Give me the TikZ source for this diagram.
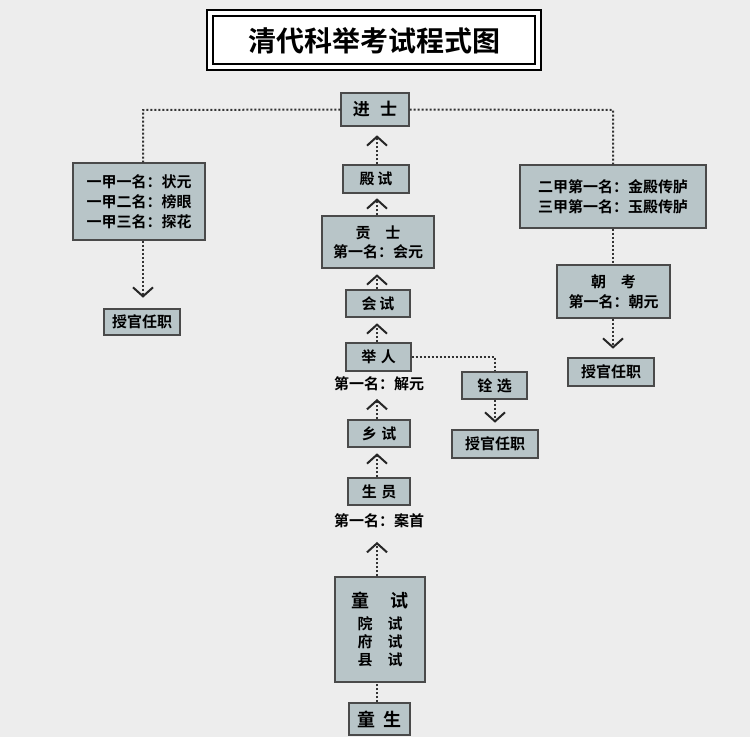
\documentclass[tikz,border=0pt]{standalone}
\usepackage{fontspec}
\setmainfont{Noto Sans CJK SC}
\newfontfamily\cjkb{Noto Sans CJK SC Bold}
\usetikzlibrary{calc}
\definecolor{bg}{HTML}{EDEDED}
\definecolor{boxf}{HTML}{B8C5C8}
\definecolor{boxd}{HTML}{4A4A4A}
\tikzset{
 bx/.style={draw=boxd,line width=1.3pt,fill=boxf,inner sep=0pt,font=\cjkb\fontsize{15}{18}\selectfont,align=center},
 lbl/.style={font=\cjkb\fontsize{15}{18}\selectfont,inner sep=0pt},
 dl/.style={draw=black!80,line width=2pt,dash pattern=on 2pt off 2pt},
 chev/.style={draw=black!85,line width=2pt,solid,line join=miter}
}
\newcommand{\bxx}[6]{\node[bx,minimum width=#4-#2,minimum height=#5-#3] (#1) at ({(#2+#4)/2},{(#3+#5)/2}) {#6};}
% up arrow: dotted from #1 to tip #2, chevron pointing up
\newcommand{\uparw}[2]{\draw[dl] (#1) -- (#2); \draw[chev] ($(#2)+(-10,9)$) -- (#2) -- ($(#2)+(10,9)$);}
\newcommand{\dnarw}[2]{\draw[dl] (#1) -- (#2); \draw[chev] ($(#2)+(-10,-9)$) -- (#2) -- ($(#2)+(10,-9)$);}
\begin{document}
\begin{tikzpicture}[x=1pt,y=-1pt]
\fill[bg] (0,0) rectangle (750,737);
\useasboundingbox (0,0) rectangle (750,737);
% title
\draw[line width=2pt,fill=white] (207,10) rectangle (541,70);
\draw[line width=1.2pt] (213,16) rectangle (535,64);
\node[font=\cjkb\fontsize{28}{30}\selectfont] (title) at (374,41) {清代科举考试程式图};
\bxx{js}{341}{93}{409}{126}{\fontsize{17}{18}\selectfont 进\hspace{0.6em}士}
\bxx{ds}{343}{165}{409}{193}{殿\hspace{0.2em}试}
\bxx{gs}{322}{216}{434}{268}{贡\hspace{1em}士\\[1pt]第一名：会元}
\bxx{hs}{346}{290}{410}{317}{会\hspace{0.2em}试}
\bxx{jr}{346}{343}{411}{371}{举\hspace{0.3em}人}
\bxx{qx}{462}{372}{527}{399}{铨\hspace{0.3em}选}
\bxx{sgm}{452}{430}{538}{458}{授官任职}
\bxx{xs}{348}{420}{410}{447}{乡\hspace{0.3em}试}
\bxx{sy}{348}{478}{410}{505}{生\hspace{0.3em}员}
\bxx{ts}{335}{577}{425}{682}{\fontsize{18}{20}\selectfont 童\hspace{1.2em}试\\[4pt]\fontsize{15}{17}\selectfont 院\hspace{1em}试\\府\hspace{1em}试\\县\hspace{1em}试}
\bxx{tsh}{349}{703}{410}{735}{\fontsize{18}{18}\selectfont 童\hspace{0.4em}生}
\bxx{lb}{73}{163}{205}{240}{一甲一名：状元\\[2pt]一甲二名：榜眼\\[2pt]一甲三名：探花}
\bxx{sgl}{104}{309}{180}{335}{授官任职}
\bxx{rb}{520}{165}{706}{228}{二甲第一名：金殿传胪\\[2pt]三甲第一名：玉殿传胪}
\bxx{ck}{557}{265}{670}{318}{朝\hspace{1em}考\\[2pt]第一名：朝元}
\bxx{sgr}{568}{358}{654}{386}{授官任职}
\node[lbl] (jy) at (379,384) {第一名：解元};
\node[lbl] (ash) at (379,521) {第一名：案首};
% connectors
\coordinate (lc) at (143,110);
\coordinate (rc) at (613,110);
\coordinate (mc) at (495,357);
\coordinate (cx) at (377,0);
\draw[dl] (js.west) -- (lc) -- (lb.north-|lc);
\draw[dl] (js.east) -- (rc) -- (rb.north-|rc);
\draw[dl] (rb.south-|rc) -- (ck.north-|rc);
\draw[dl] (jr.east) -- (mc) -- (qx.north-|mc);
\draw[dl] (tsh.north-|cx) -- (ts.south-|cx);
\coordinate (a1) at ($(sgl.north-|lc)+(0,-12)$); \dnarw{lb.south-|lc}{a1}
\coordinate (a2) at ($(sgr.north-|rc)+(0,-10)$); \dnarw{ck.south-|rc}{a2}
\coordinate (a3) at ($(sgm.north-|mc)+(0,-8)$); \dnarw{qx.south-|mc}{a3}
\coordinate (b1) at ($(js.south-|cx)+(0,10)$); \uparw{ds.north-|cx}{b1}
\coordinate (b2) at ($(ds.south-|cx)+(0,6)$); \uparw{gs.north-|cx}{b2}
\coordinate (b3) at ($(gs.south-|cx)+(0,7)$); \uparw{hs.north-|cx}{b3}
\coordinate (b4) at ($(hs.south-|cx)+(0,7)$); \uparw{jr.north-|cx}{b4}
\coordinate (b5) at ($(jy.south-|cx)+(0,9)$); \uparw{xs.north-|cx}{b5}
\coordinate (b6) at ($(xs.south-|cx)+(0,7)$); \uparw{sy.north-|cx}{b6}
\coordinate (b7) at ($(ash.south-|cx)+(0,15)$); \uparw{ts.north-|cx}{b7}
\end{tikzpicture}
\end{document}
